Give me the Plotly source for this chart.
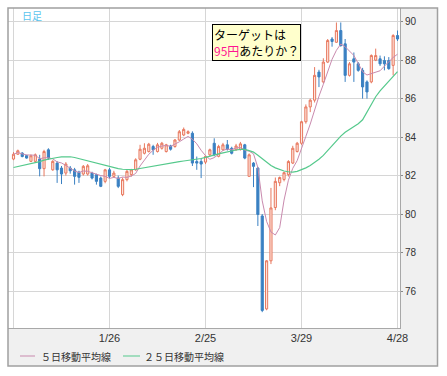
import plotly.graph_objects as go
import pandas as pd

# ---- data ----
opens = [82.86, 83.11, 83.17, 83.04, 82.74, 82.74, 82.86, 82.36, 83.34, 82.30,
         82.65, 82.39, 82.13, 82.39, 82.30, 82.18, 82.08, 82.08, 82.13, 82.05,
         81.87, 81.70, 82.30, 81.96, 81.87, 81.01, 81.79, 82.05, 82.30, 82.85,
         83.16, 83.25, 83.51, 83.25, 83.42, 83.25, 83.54, 83.51, 83.85, 84.11,
         84.20, 84.20, 82.73, 82.73, 82.70, 83.08, 83.68, 83.00, 83.34, 83.60,
         83.42, 83.34, 83.37, 83.60, 81.96, 82.65, 82.39, 79.90, 75.07, 77.57,
         80.34, 81.63, 81.80, 82.05, 82.65, 83.25, 83.68, 84.80, 85.57, 85.92,
         87.38, 86.87, 87.90, 89.10, 88.93, 89.54, 88.85, 87.21, 88.07, 87.81,
         87.47, 86.87, 86.87, 88.00, 88.07, 87.98, 87.98, 87.73, 89.28]
highs = [83.22, 83.35, 83.22, 83.08, 83.10, 83.15, 83.08, 83.34, 83.42, 82.80,
         82.75, 82.50, 82.70, 82.50, 82.40, 82.25, 82.55, 82.60, 82.20, 82.10,
         81.95, 82.35, 82.40, 82.25, 82.00, 81.90, 82.30, 82.35, 82.90, 83.60,
         83.68, 83.70, 83.60, 83.70, 83.75, 83.65, 83.60, 83.90, 84.37, 84.50,
         84.35, 84.30, 82.99, 82.90, 83.05, 83.40, 83.94, 83.60, 83.70, 83.85,
         83.50, 83.65, 83.75, 83.65, 83.15, 82.70, 82.45, 80.00, 77.60, 81.36,
         81.90, 81.95, 82.20, 82.80, 83.55, 83.75, 84.85, 85.70, 86.00, 87.64,
         87.50, 88.10, 89.10, 89.20, 89.96, 89.96, 89.10, 87.90, 88.40, 87.90,
         87.60, 86.95, 88.30, 88.60, 88.24, 88.20, 88.16, 89.35, 89.54]
lows = [82.80, 83.08, 82.95, 82.88, 82.70, 82.68, 81.96, 81.96, 82.82, 82.25,
        81.62, 81.56, 82.00, 82.10, 81.53, 81.62, 82.00, 82.00, 81.80, 81.53,
        81.40, 81.60, 81.85, 81.90, 81.35, 80.93, 81.70, 81.95, 82.25, 82.80,
        83.10, 83.20, 83.08, 83.20, 83.35, 83.20, 83.30, 83.45, 83.80, 84.05,
        84.15, 82.50, 82.30, 81.87, 82.60, 83.00, 83.00, 82.95, 83.30, 83.30,
        83.10, 83.30, 83.30, 82.85, 81.96, 81.40, 79.38, 74.90, 75.00, 77.40,
        80.20, 81.45, 81.70, 81.95, 82.60, 83.20, 83.60, 84.70, 85.30, 85.80,
        86.60, 86.80, 87.85, 88.70, 88.90, 88.70, 86.87, 87.15, 86.87, 87.40,
        86.00, 86.00, 86.80, 87.95, 87.70, 87.47, 87.50, 87.21, 89.00]
closes = [83.11, 83.29, 82.99, 82.91, 83.03, 83.08, 82.36, 83.25, 82.91, 82.74,
          82.30, 82.08, 82.60, 82.25, 81.96, 81.91, 82.48, 82.51, 81.87, 81.70,
          81.44, 82.30, 81.96, 82.13, 81.44, 81.79, 82.22, 82.30, 82.82, 83.37,
          83.42, 83.63, 83.34, 83.60, 83.68, 83.60, 83.37, 83.85, 84.28, 84.40,
          84.28, 82.65, 82.65, 82.60, 83.00, 83.34, 83.08, 83.51, 83.60, 83.37,
          83.16, 83.54, 83.65, 82.91, 83.08, 82.48, 79.98, 74.99, 77.57, 80.32,
          81.70, 81.90, 82.15, 82.73, 83.42, 83.68, 84.80, 85.57, 85.92, 87.21,
          87.13, 87.90, 89.02, 88.97, 89.54, 88.76, 87.21, 87.81, 87.90, 87.47,
          86.61, 86.35, 88.24, 88.24, 87.81, 87.81, 87.56, 89.28, 89.10]
ma25 = [82.42, 82.47, 82.52, 82.56, 82.60, 82.66, 82.73, 82.80, 82.86, 82.90,
        82.94, 82.97, 82.99, 82.98, 82.94, 82.88, 82.82, 82.75, 82.68, 82.62,
        82.56, 82.50, 82.45, 82.40, 82.36, 82.33, 82.31, 82.31, 82.33, 82.37,
        82.42, 82.47, 82.52, 82.56, 82.60, 82.64, 82.67, 82.70, 82.73, 82.76,
        82.79, 82.82, 82.85, 82.89, 82.95, 83.02, 83.08, 83.13, 83.18, 83.24,
        83.29, 83.33, 83.36, 83.36, 83.30, 83.22, 83.06, 82.88, 82.66, 82.52,
        82.40, 82.30, 82.24, 82.20, 82.18, 82.22, 82.30, 82.40, 82.52, 82.68,
        82.85, 83.05, 83.30, 83.55, 83.82, 84.05, 84.25, 84.40, 84.55, 84.70,
        84.90, 85.30, 85.75, 86.10, 86.40, 86.65, 86.85, 87.10, 87.40]
tick_index = [0, 22, 44, 66, 88]
tick_labels = ["", "1/26", "2/25", "3/29", "4/28"]
y_ticks = [76, 78, 80, 82, 84, 86, 88, 90]

x_idx = list(range(len(closes)))
ma5 = pd.Series(closes).rolling(5, min_periods=1).mean().tolist()

JP = "Noto Sans CJK JP"
fig = go.Figure()
fig.add_trace(go.Candlestick(
    x=x_idx, open=opens, high=highs, low=lows, close=closes,
    increasing=dict(line=dict(color="#e8785e", width=1), fillcolor="#fde6df"),
    decreasing=dict(line=dict(color="#3a80c2", width=1), fillcolor="#3a80c2"),
    whiskerwidth=0, showlegend=False, hoverinfo="skip"))
fig.add_trace(go.Scatter(x=x_idx, y=ma5, mode="lines",
                         line=dict(color="#c98aae", width=1), showlegend=False, hoverinfo="skip"))
fig.add_trace(go.Scatter(x=x_idx, y=ma25, mode="lines",
                         line=dict(color="#55c98c", width=1.2), showlegend=False, hoverinfo="skip"))

W, H = 447, 376
L, R, T, B = 8, 47, 8, 48
pw, ph = W - L - R, H - T - B


def px(x):
    return (x - L) / pw


def py(y):
    return (H - B - y) / ph


shapes = [
    dict(type="rect", xref="paper", yref="paper", x0=px(8), x1=px(437.5), y0=py(366), y1=1,
         fillcolor="#f0f0f0", line=dict(width=0), layer="below"),
    dict(type="rect", xref="paper", yref="paper", x0=0, x1=1, y0=0, y1=1,
         fillcolor="white", line=dict(width=0), layer="below"),
    dict(type="rect", xref="paper", yref="paper", x0=px(8), x1=px(437.5), y0=py(366), y1=1,
         fillcolor="rgba(0,0,0,0)", line=dict(color="#a0a0a0", width=1.5), layer="above"),
    dict(type="line", xref="paper", yref="paper", x0=px(20), x1=px(35), y0=py(356), y1=py(356),
         line=dict(color="#c98aae", width=1)),
    dict(type="line", xref="paper", yref="paper", x0=px(123), x1=px(140), y0=py(356), y1=py(356),
         line=dict(color="#55c98c", width=1)),
]

annotations = [
    dict(xref="paper", yref="paper", x=px(20), y=py(15.5), xanchor="left", yanchor="middle",
         text="日足", showarrow=False, font=dict(family=JP, size=10, color="#5cc4ee")),
    dict(xref="paper", yref="paper", x=px(212), y=py(23.5), xanchor="left", yanchor="top",
         text="ターゲットは<br><span style='color:#ff1493'>95円</span>あたりか？",
         showarrow=False, align="left", bgcolor="#ffffcc", bordercolor="#000000",
         borderwidth=1, borderpad=1, font=dict(family=JP, size=12, color="#000000")),
    dict(xref="paper", yref="paper", x=px(39), y=py(356), xanchor="left", yanchor="middle",
         text="５日移動平均線", showarrow=False, font=dict(family=JP, size=10, color="#333333")),
    dict(xref="paper", yref="paper", x=px(142), y=py(356), xanchor="left", yanchor="middle",
         text="２５日移動平均線", showarrow=False, font=dict(family=JP, size=10, color="#333333")),
]

fig.update_layout(
    width=W, height=H, margin=dict(l=L, r=R, t=T, b=B),
    paper_bgcolor="white", plot_bgcolor="white",
    shapes=shapes, annotations=annotations, showlegend=False,
    xaxis=dict(range=[-1.26, 88.57], tickmode="array", tickvals=tick_index, ticktext=tick_labels,
               showgrid=True, gridcolor="#d6d6d6", gridwidth=1, zeroline=False,
               showline=True, linecolor="#a8a8a8", linewidth=1, ticks="",
               rangeslider=dict(visible=False),
               tickfont=dict(family="Liberation Sans", size=11, color="#333333")),
    yaxis=dict(range=[74.077, 90.712], side="right", tickmode="array", tickvals=y_ticks,
               showgrid=True, gridcolor="#d6d6d6", gridwidth=1, zeroline=False,
               showline=True, linecolor="#a8a8a8", linewidth=1,
               ticks="outside", ticklen=2, tickcolor="#888888",
               tickfont=dict(family="Liberation Sans", size=10, color="#333333")),
)

fig.write_html("out.html", config={"displayModeBar": False},
               post_script="document.body.style.margin='0';")
